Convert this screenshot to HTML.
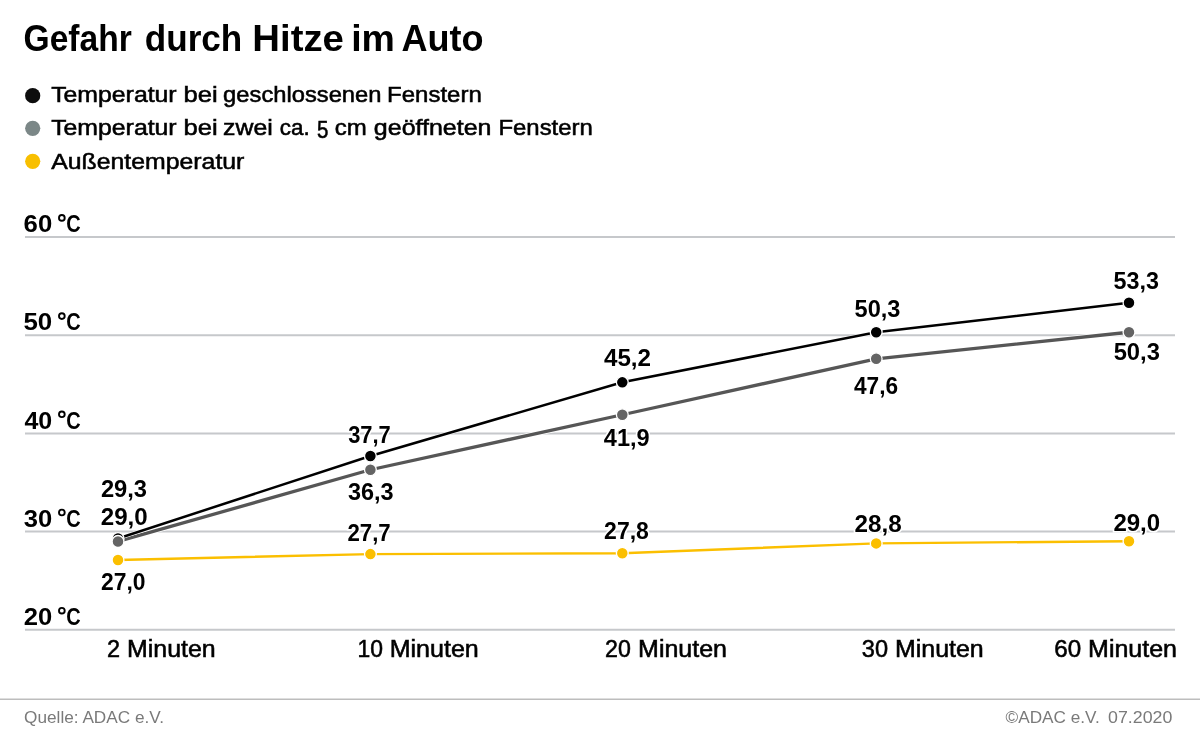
<!DOCTYPE html><html><head><meta charset="utf-8"><style>html,body{margin:0;padding:0;background:#fff;overflow:hidden}svg{display:block;will-change:transform}text{font-family:"Liberation Sans",sans-serif}</style></head><body>
<svg width="1200" height="750" viewBox="0 0 1200 750">
<rect width="1200" height="750" fill="#fff"/>
<circle cx="32.7" cy="95.7" r="7.6" fill="#0d0d0d"/>
<circle cx="32.7" cy="128.3" r="7.6" fill="#7b8787"/>
<circle cx="32.7" cy="161.3" r="7.6" fill="#f8bf00"/>
<line x1="25" x2="1175" y1="237.00" y2="237.00" stroke="#c6c8cb" stroke-width="2.0"/>
<line x1="25" x2="1175" y1="335.20" y2="335.20" stroke="#c6c8cb" stroke-width="2.0"/>
<line x1="25" x2="1175" y1="433.40" y2="433.40" stroke="#c6c8cb" stroke-width="2.0"/>
<line x1="25" x2="1175" y1="531.60" y2="531.60" stroke="#c6c8cb" stroke-width="2.0"/>
<line x1="25" x2="1175" y1="629.80" y2="629.80" stroke="#c6c8cb" stroke-width="2.0"/>
<polyline points="118,560.00 370.4,554.10 622.3,553.20 876.2,543.40 1129,541.20" fill="none" stroke="#fff" stroke-width="4.6"/>
<polyline points="118,560.00 370.4,554.10 622.3,553.20 876.2,543.40 1129,541.20" fill="none" stroke="#fbbf00" stroke-width="2.4"/>
<polyline points="118,541.42 370.4,469.73 622.3,414.74 876.2,358.77 1129,332.25" fill="none" stroke="#fff" stroke-width="4.9"/>
<polyline points="118,541.42 370.4,469.73 622.3,414.74 876.2,358.77 1129,332.25" fill="none" stroke="#565656" stroke-width="3.3"/>
<polyline points="118,538.47 370.4,455.99 622.3,382.34 876.2,332.25 1129,302.79" fill="none" stroke="#fff" stroke-width="3.7"/>
<polyline points="118,538.47 370.4,455.99 622.3,382.34 876.2,332.25 1129,302.79" fill="none" stroke="#000000" stroke-width="2.5"/>
<circle cx="118" cy="560.00" r="5.9" fill="#fbbf00" stroke="#fff" stroke-width="1.3"/>
<circle cx="370.4" cy="554.10" r="5.9" fill="#fbbf00" stroke="#fff" stroke-width="1.3"/>
<circle cx="622.3" cy="553.20" r="5.9" fill="#fbbf00" stroke="#fff" stroke-width="1.3"/>
<circle cx="876.2" cy="543.40" r="5.9" fill="#fbbf00" stroke="#fff" stroke-width="1.3"/>
<circle cx="1129" cy="541.20" r="5.9" fill="#fbbf00" stroke="#fff" stroke-width="1.3"/>
<circle cx="118" cy="538.47" r="5.9" fill="#000000" stroke="#fff" stroke-width="1.3"/>
<circle cx="370.4" cy="455.99" r="5.9" fill="#000000" stroke="#fff" stroke-width="1.3"/>
<circle cx="622.3" cy="382.34" r="5.9" fill="#000000" stroke="#fff" stroke-width="1.3"/>
<circle cx="876.2" cy="332.25" r="5.9" fill="#000000" stroke="#fff" stroke-width="1.3"/>
<circle cx="1129" cy="302.79" r="5.9" fill="#000000" stroke="#fff" stroke-width="1.3"/>
<circle cx="118" cy="541.42" r="5.9" fill="#646464" stroke="#fff" stroke-width="1.3"/>
<circle cx="370.4" cy="469.73" r="5.9" fill="#646464" stroke="#fff" stroke-width="1.3"/>
<circle cx="622.3" cy="414.74" r="5.9" fill="#646464" stroke="#fff" stroke-width="1.3"/>
<circle cx="876.2" cy="358.77" r="5.9" fill="#646464" stroke="#fff" stroke-width="1.3"/>
<circle cx="1129" cy="332.25" r="5.9" fill="#646464" stroke="#fff" stroke-width="1.3"/>
<circle cx="61.85" cy="217.90" r="2.85" fill="none" stroke="#000" stroke-width="1.9"/>
<circle cx="61.85" cy="316.10" r="2.85" fill="none" stroke="#000" stroke-width="1.9"/>
<circle cx="61.85" cy="414.30" r="2.85" fill="none" stroke="#000" stroke-width="1.9"/>
<circle cx="61.85" cy="512.50" r="2.85" fill="none" stroke="#000" stroke-width="1.9"/>
<circle cx="61.85" cy="610.70" r="2.85" fill="none" stroke="#000" stroke-width="1.9"/>
<line x1="0" x2="1200" y1="699.3" y2="699.3" stroke="#bdbdbd" stroke-width="1.5"/>
<text x="23.53" y="51.4" font-size="36.6" font-weight="bold" fill="#000"  textLength="108.28" lengthAdjust="spacingAndGlyphs" xml:space="preserve">Gefahr</text>
<text x="144.83" y="51.4" font-size="36.6" font-weight="bold" fill="#000"  textLength="97.42" lengthAdjust="spacingAndGlyphs" xml:space="preserve">durch</text>
<text x="252.36" y="51.4" font-size="36.6" font-weight="bold" fill="#000"  textLength="91.57" lengthAdjust="spacingAndGlyphs" xml:space="preserve">Hitze</text>
<text x="351.15" y="51.4" font-size="36.6" font-weight="bold" fill="#000"  textLength="43.73" lengthAdjust="spacingAndGlyphs" xml:space="preserve">im</text>
<text x="401.39" y="51.4" font-size="36.6" font-weight="bold" fill="#000"  textLength="82.06" lengthAdjust="spacingAndGlyphs" xml:space="preserve">Auto</text>
<text x="51.15" y="102.4" font-size="22.8" fill="#000" stroke="#000" stroke-width="0.55" textLength="125.51" lengthAdjust="spacingAndGlyphs" xml:space="preserve">Temperatur</text>
<text x="183.51" y="102.4" font-size="22.8" fill="#000" stroke="#000" stroke-width="0.55" textLength="34.15" lengthAdjust="spacingAndGlyphs" xml:space="preserve">bei</text>
<text x="223.14" y="102.4" font-size="22.8" fill="#000" stroke="#000" stroke-width="0.55" textLength="158.36" lengthAdjust="spacingAndGlyphs" xml:space="preserve">geschlossenen</text>
<text x="387.13" y="102.4" font-size="22.8" fill="#000" stroke="#000" stroke-width="0.55" textLength="94.64" lengthAdjust="spacingAndGlyphs" xml:space="preserve">Fenstern</text>
<text x="51.15" y="134.7" font-size="22.8" fill="#000" stroke="#000" stroke-width="0.55" textLength="125.51" lengthAdjust="spacingAndGlyphs" xml:space="preserve">Temperatur</text>
<text x="183.51" y="134.7" font-size="22.8" fill="#000" stroke="#000" stroke-width="0.55" textLength="34.15" lengthAdjust="spacingAndGlyphs" xml:space="preserve">bei</text>
<text x="223.12" y="134.7" font-size="22.8" fill="#000" stroke="#000" stroke-width="0.55" textLength="49.64" lengthAdjust="spacingAndGlyphs" xml:space="preserve">zwei</text>
<text x="279.72" y="134.7" font-size="22.8" fill="#000" stroke="#000" stroke-width="0.55" textLength="29.93" lengthAdjust="spacingAndGlyphs" xml:space="preserve">ca.</text>
<text x="334.83" y="134.7" font-size="22.8" fill="#000" stroke="#000" stroke-width="0.55" textLength="31.99" lengthAdjust="spacingAndGlyphs" xml:space="preserve">cm</text>
<text x="373.87" y="134.7" font-size="22.8" fill="#000" stroke="#000" stroke-width="0.55" textLength="117.63" lengthAdjust="spacingAndGlyphs" xml:space="preserve">geöffneten</text>
<text x="498.45" y="134.7" font-size="22.8" fill="#000" stroke="#000" stroke-width="0.55" textLength="94.34" lengthAdjust="spacingAndGlyphs" xml:space="preserve">Fenstern</text>
<text x="316.90" y="138.29999999999998" font-size="23.256" fill="#000" stroke="#000" stroke-width="0.55" textLength="11.40" lengthAdjust="spacingAndGlyphs" xml:space="preserve">5</text>
<text x="51.17" y="168.7" font-size="22.8" fill="#000" stroke="#000" stroke-width="0.55" textLength="193.21" lengthAdjust="spacingAndGlyphs" xml:space="preserve">Außentemperatur</text>
<text x="23.62" y="232.2" font-size="24.2" font-weight="bold" fill="#000"  textLength="28.61" lengthAdjust="spacingAndGlyphs" xml:space="preserve">60</text>
<text x="66.33" y="232.2" font-size="24.2" font-weight="bold" fill="#000"  textLength="14.39" lengthAdjust="spacingAndGlyphs" xml:space="preserve">C</text>
<text x="23.40" y="330.4" font-size="24.2" font-weight="bold" fill="#000"  textLength="28.80" lengthAdjust="spacingAndGlyphs" xml:space="preserve">50</text>
<text x="66.33" y="330.4" font-size="24.2" font-weight="bold" fill="#000"  textLength="14.39" lengthAdjust="spacingAndGlyphs" xml:space="preserve">C</text>
<text x="24.44" y="428.6" font-size="24.2" font-weight="bold" fill="#000"  textLength="27.80" lengthAdjust="spacingAndGlyphs" xml:space="preserve">40</text>
<text x="66.33" y="428.6" font-size="24.2" font-weight="bold" fill="#000"  textLength="14.39" lengthAdjust="spacingAndGlyphs" xml:space="preserve">C</text>
<text x="23.77" y="526.8" font-size="24.2" font-weight="bold" fill="#000"  textLength="28.47" lengthAdjust="spacingAndGlyphs" xml:space="preserve">30</text>
<text x="66.33" y="526.8" font-size="24.2" font-weight="bold" fill="#000"  textLength="14.39" lengthAdjust="spacingAndGlyphs" xml:space="preserve">C</text>
<text x="23.65" y="625.0" font-size="24.2" font-weight="bold" fill="#000"  textLength="28.49" lengthAdjust="spacingAndGlyphs" xml:space="preserve">20</text>
<text x="66.33" y="625.0" font-size="24.2" font-weight="bold" fill="#000"  textLength="14.39" lengthAdjust="spacingAndGlyphs" xml:space="preserve">C</text>
<text x="100.90" y="497.4" font-size="23.0" font-weight="bold" fill="#000" stroke="#fff" stroke-width="3" paint-order="stroke" textLength="46.16" lengthAdjust="spacingAndGlyphs" xml:space="preserve">29,3</text>
<text x="100.78" y="524.6" font-size="23.0" font-weight="bold" fill="#000" stroke="#fff" stroke-width="3" paint-order="stroke" textLength="46.92" lengthAdjust="spacingAndGlyphs" xml:space="preserve">29,0</text>
<text x="100.97" y="590.15" font-size="23.0" font-weight="bold" fill="#000" stroke="#fff" stroke-width="3" paint-order="stroke" textLength="44.51" lengthAdjust="spacingAndGlyphs" xml:space="preserve">27,0</text>
<text x="348.14" y="443.15" font-size="23.0" font-weight="bold" fill="#000" stroke="#fff" stroke-width="3" paint-order="stroke" textLength="42.61" lengthAdjust="spacingAndGlyphs" xml:space="preserve">37,7</text>
<text x="347.98" y="500.4" font-size="23.0" font-weight="bold" fill="#000" stroke="#fff" stroke-width="3" paint-order="stroke" textLength="45.70" lengthAdjust="spacingAndGlyphs" xml:space="preserve">36,3</text>
<text x="347.46" y="540.6" font-size="23.0" font-weight="bold" fill="#000" stroke="#fff" stroke-width="3" paint-order="stroke" textLength="43.23" lengthAdjust="spacingAndGlyphs" xml:space="preserve">27,7</text>
<text x="603.95" y="366.15" font-size="23.0" font-weight="bold" fill="#000" stroke="#fff" stroke-width="3" paint-order="stroke" textLength="47.12" lengthAdjust="spacingAndGlyphs" xml:space="preserve">45,2</text>
<text x="603.86" y="446.15" font-size="23.0" font-weight="bold" fill="#000" stroke="#fff" stroke-width="3" paint-order="stroke" textLength="45.79" lengthAdjust="spacingAndGlyphs" xml:space="preserve">41,9</text>
<text x="604.12" y="538.9" font-size="23.0" font-weight="bold" fill="#000" stroke="#fff" stroke-width="3" paint-order="stroke" textLength="44.75" lengthAdjust="spacingAndGlyphs" xml:space="preserve">27,8</text>
<text x="854.63" y="316.9" font-size="23.0" font-weight="bold" fill="#000" stroke="#fff" stroke-width="3" paint-order="stroke" textLength="45.84" lengthAdjust="spacingAndGlyphs" xml:space="preserve">50,3</text>
<text x="854.00" y="393.65" font-size="23.0" font-weight="bold" fill="#000" stroke="#fff" stroke-width="3" paint-order="stroke" textLength="44.13" lengthAdjust="spacingAndGlyphs" xml:space="preserve">47,6</text>
<text x="854.44" y="532.4" font-size="23.0" font-weight="bold" fill="#000" stroke="#fff" stroke-width="3" paint-order="stroke" textLength="47.23" lengthAdjust="spacingAndGlyphs" xml:space="preserve">28,8</text>
<text x="1113.60" y="289.3" font-size="23.0" font-weight="bold" fill="#000" stroke="#fff" stroke-width="3" paint-order="stroke" textLength="45.42" lengthAdjust="spacingAndGlyphs" xml:space="preserve">53,3</text>
<text x="1113.65" y="360.2" font-size="23.0" font-weight="bold" fill="#000" stroke="#fff" stroke-width="3" paint-order="stroke" textLength="46.24" lengthAdjust="spacingAndGlyphs" xml:space="preserve">50,3</text>
<text x="1113.40" y="531.4" font-size="23.0" font-weight="bold" fill="#000" stroke="#fff" stroke-width="3" paint-order="stroke" textLength="46.78" lengthAdjust="spacingAndGlyphs" xml:space="preserve">29,0</text>
<text x="107.10" y="657.4" font-size="23.0" fill="#000" stroke="#000" stroke-width="0.55" textLength="13.04" lengthAdjust="spacingAndGlyphs" xml:space="preserve">2</text>
<text x="127.01" y="657.4" font-size="23.0" fill="#000" stroke="#000" stroke-width="0.55" textLength="88.60" lengthAdjust="spacingAndGlyphs" xml:space="preserve">Minuten</text>
<text x="357.50" y="657.4" font-size="23.0" fill="#000" stroke="#000" stroke-width="0.55" textLength="25.44" lengthAdjust="spacingAndGlyphs" xml:space="preserve">10</text>
<text x="389.67" y="657.4" font-size="23.0" fill="#000" stroke="#000" stroke-width="0.55" textLength="89.09" lengthAdjust="spacingAndGlyphs" xml:space="preserve">Minuten</text>
<text x="605.12" y="657.4" font-size="23.0" fill="#000" stroke="#000" stroke-width="0.55" textLength="25.77" lengthAdjust="spacingAndGlyphs" xml:space="preserve">20</text>
<text x="638.07" y="657.4" font-size="23.0" fill="#000" stroke="#000" stroke-width="0.55" textLength="88.93" lengthAdjust="spacingAndGlyphs" xml:space="preserve">Minuten</text>
<text x="861.84" y="657.4" font-size="23.0" fill="#000" stroke="#000" stroke-width="0.55" textLength="26.19" lengthAdjust="spacingAndGlyphs" xml:space="preserve">30</text>
<text x="894.98" y="657.4" font-size="23.0" fill="#000" stroke="#000" stroke-width="0.55" textLength="88.71" lengthAdjust="spacingAndGlyphs" xml:space="preserve">Minuten</text>
<text x="1054.38" y="657.4" font-size="23.0" fill="#000" stroke="#000" stroke-width="0.55" textLength="26.88" lengthAdjust="spacingAndGlyphs" xml:space="preserve">60</text>
<text x="1088.07" y="657.4" font-size="23.0" fill="#000" stroke="#000" stroke-width="0.55" textLength="88.93" lengthAdjust="spacingAndGlyphs" xml:space="preserve">Minuten</text>
<text x="24.06" y="722.7" font-size="17" fill="#7a7a7a"  textLength="139.93" lengthAdjust="spacingAndGlyphs" xml:space="preserve">Quelle: ADAC e.V.</text>
<text x="1005.51" y="722.9" font-size="17" fill="#7a7a7a"  textLength="94.23" lengthAdjust="spacingAndGlyphs" xml:space="preserve">©ADAC e.V.</text>
<text x="1108.07" y="722.9" font-size="17" fill="#7a7a7a"  textLength="64.31" lengthAdjust="spacingAndGlyphs" xml:space="preserve">07.2020</text>
</svg></body></html>
